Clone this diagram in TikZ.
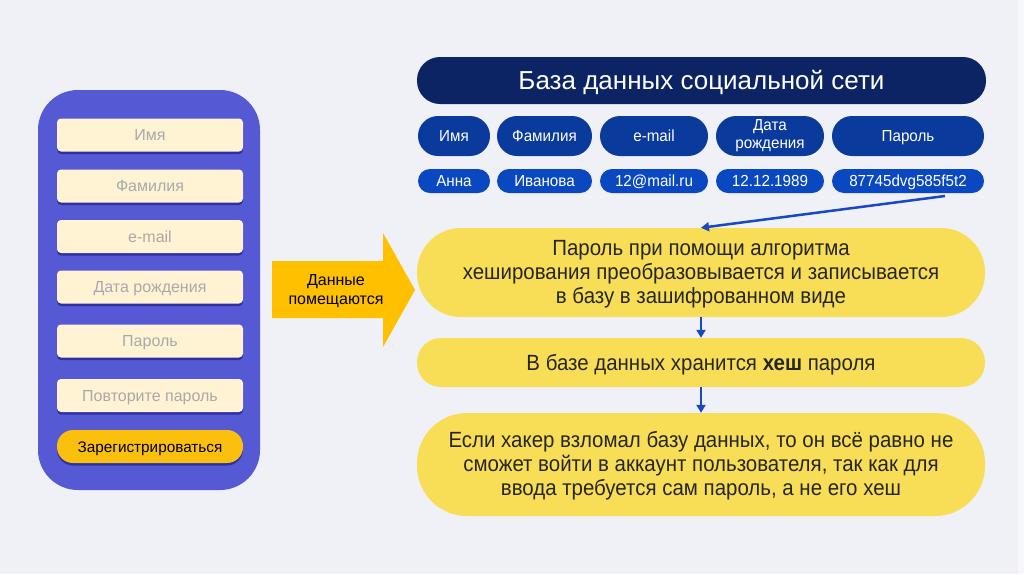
\documentclass[tikz,border=0pt]{standalone}
\usepackage{fontspec}
\setmainfont{Liberation Sans}
\newfontfamily\cond[FakeStretch=0.93]{Liberation Sans}
\newfontfamily\semi[FakeStretch=0.95]{Liberation Sans}
\usetikzlibrary{arrows.meta,calc,shadows}
\definecolor{bg}{HTML}{F0F0F7}
\definecolor{panel}{HTML}{5559D4}
\definecolor{cream}{HTML}{FFF3D4}
\definecolor{fieldtxt}{HTML}{A9A9A9}
\definecolor{btn}{HTML}{FBBF0D}
\definecolor{navy}{HTML}{0C2463}
\definecolor{pillA}{HTML}{0A3A9C}
\definecolor{pillB}{HTML}{0A48C2}
\definecolor{yel}{HTML}{F8DE57}
\definecolor{arr}{HTML}{FFC000}
\definecolor{conn}{HTML}{1848C2}
\tikzset{
  fieldbox/.style={fill=cream, rounded corners=4pt, minimum width=186pt, minimum height=33pt,
    text=fieldtxt, font=\fontsize{16}{18}\selectfont, inner sep=0pt, text height=11.5pt, text depth=0pt,
    drop shadow={shadow xshift=0pt, shadow yshift=-2.5pt, fill=black!60!blue, opacity=0.45}},
  btnbox/.style={fill=btn, rounded corners=16pt, minimum width=186pt, minimum height=33pt,
    text=black, font=\fontsize{15.3}{18}\selectfont, inner sep=0pt, text height=11pt, text depth=0pt,
    drop shadow={shadow xshift=0pt, shadow yshift=-2.5pt, fill=black!60!blue, opacity=0.45}},
  headbox/.style={fill=navy, rounded corners=23pt, minimum width=569pt, minimum height=47pt,
    text=white, font=\fontsize{26}{30}\selectfont, inner sep=0pt, text height=18.5pt, text depth=0pt},
  colbox/.style={fill=pillA, rounded corners=20pt, minimum height=40pt, text=white,
    font=\semi\fontsize{16}{18}\selectfont, inner sep=0pt, align=center},
  colone/.style={colbox, text height=11.5pt, text depth=0pt},
  valbox/.style={fill=pillB, rounded corners=12pt, minimum height=24pt, text=white,
    font=\semi\fontsize{16}{18}\selectfont, inner sep=0pt, text height=11.5pt, text depth=0pt},
  yelbox/.style={fill=yel, minimum width=568pt, text=black!85,
    font=\cond\fontsize{22}{24}\selectfont, inner sep=0pt, align=center},
  flowarrow/.style={draw=conn, line width=2.5pt, -{Triangle[length=8pt,width=9pt]}},
}
\begin{document}
\begin{tikzpicture}[x=1pt,y=-1pt]
\fill[bg] (0,0) rectangle (1024,574);
\fill[white, opacity=0.5] (1018,0) rectangle (1024,574);
\useasboundingbox (0,0) rectangle (1024,574);

% left panel
\fill[panel, rounded corners=40pt] (38,90) rectangle (260,490);
\node[fieldbox] (f1) at (150,135) {Имя};
\node[fieldbox] (f2) at (150,186) {Фамилия};
\node[fieldbox] (f3) at (150,236.5) {e-mail};
\node[fieldbox] (f4) at (150,287) {Дата рождения};
\node[fieldbox] (f5) at (150,341) {Пароль};
\node[fieldbox] (f6) at (150,395.5) {Повторите пароль};
\node[btnbox] (reg) at (150,446.5) {Зарегистрироваться};

% big arrow
\fill[arr] (272,261) -- (383,261) -- (383,233) -- (415,290) -- (383,347) -- (383,318) -- (272,318) -- cycle;
\node[align=center, font=\fontsize{16}{19}\selectfont, text=black] (put) at (336,291) {Данные\\помещаются};

% database header
\node[headbox] (head) at (701.5,80.5) {База данных социальной сети};
\node[colone, minimum width=72pt] (c1) at (454,136) {Имя};
\node[colone, minimum width=95pt] (c2) at (544.5,136) {Фамилия};
\node[colone, minimum width=108pt] (c3) at (654,136) {e-mail};
\node[colbox, minimum width=108pt] (c4) at (770,136) {Дата\\рождения};
\node[colone, minimum width=152pt] (c5) at (908,136) {Пароль};
\node[valbox, minimum width=72pt] (v1) at (454,181) {Анна};
\node[valbox, minimum width=95pt] (v2) at (544.5,181) {Иванова};
\node[valbox, minimum width=108pt] (v3) at (654,181) {12@mail.ru};
\node[valbox, minimum width=108pt] (v4) at (770,181) {12.12.1989};
\node[valbox, minimum width=152pt] (v5) at (908,181) {87745dvg585f5t2};

% yellow boxes
\node[yelbox, minimum height=89pt, rounded corners=44pt] (b1) at (701,272.5) {};
\node[font=\cond\fontsize{22}{24}\selectfont, text=black!85, align=center, inner sep=0pt] (t1) at (701,274)
  {Пароль при помощи алгоритма\\хеширования преобразовывается и записывается\\в базу в зашифрованном виде};
\node[yelbox, minimum height=49pt, rounded corners=24pt, text height=16pt, text depth=0pt] (b2) at (701,362.5)
  {В базе данных хранится \textbf{хеш} пароля};
\node[yelbox, minimum height=103pt, rounded corners=50pt] (b3) at (701,464.5) {};
\node[font=\cond\fontsize{22}{24}\selectfont, text=black!85, align=center, inner sep=0pt] (t3) at (701,466)
  {Если хакер взломал базу данных, то он всё равно не\\сможет войти в аккаунт пользователя, так как для\\ввода требуется сам пароль, а не его хеш};

% connectors
\coordinate (s) at (945,196);
\draw[flowarrow] (s) -- (b1.north);
\draw[flowarrow] (b1.south) -- (b2.north);
\draw[flowarrow] (b2.south) -- (b3.north);
\end{tikzpicture}
\end{document}
